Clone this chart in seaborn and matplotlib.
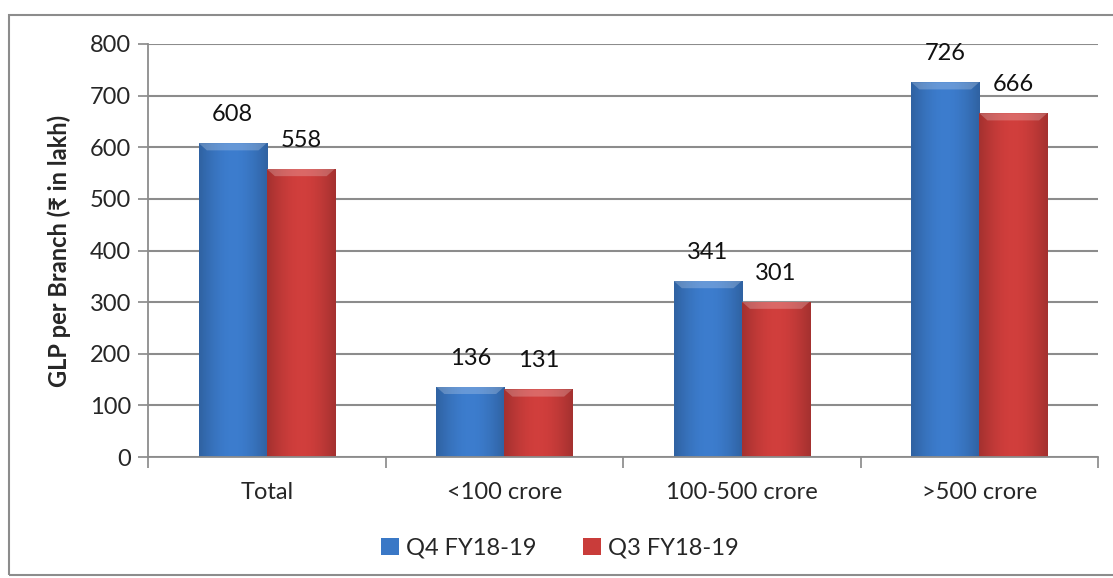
import matplotlib
matplotlib.use("Agg")
import matplotlib.pyplot as plt
import seaborn as sns
import pandas as pd
import numpy as np
from matplotlib.patches import Rectangle, Patch, Polygon

categories = ["Total", "<100 crore", "100-500 crore", ">500 crore"]
q4_values = [608, 136, 341, 726]
q3_values = [558, 131, 301, 666]
series_names = ["Q4 FY18-19", "Q3 FY18-19"]
y_ticks = [0, 100, 200, 300, 400, 500, 600, 700, 800]

df = pd.DataFrame({
    "category": categories * 2,
    "value": q4_values + q3_values,
    "series": [series_names[0]] * 4 + [series_names[1]] * 4,
})

sns.set_style("white")
plt.rcParams['font.family'] = ['Lato', 'DejaVu Sans']

FS = 17

fig = plt.figure(figsize=(11.13, 5.78), dpi=100)
ax = fig.add_axes([148/1113, 1 - 457/578, 950/1113, 413/578])

colors = ["#3A78C6", "#C93C3A"]
sns.barplot(data=df, x="category", y="value", hue="series", order=categories,
            hue_order=series_names, palette=colors, width=0.573, ax=ax,
            edgecolor="none", linewidth=0, legend=False, saturation=1)

# subtle shading / bevel
for p in ax.patches:
    x0, w, h = p.get_x(), p.get_width(), p.get_height()
    if h <= 0:
        continue
    fc = p.get_facecolor()
    grad = np.linspace(0, 1, 50)
    img = np.ones((1, 50, 4))
    shade = 0.82 + 0.22 * np.sin(grad * np.pi)
    for k in range(3):
        img[0, :, k] = np.clip(fc[k] * shade, 0, 1)
    im = ax.imshow(img, extent=[x0, x0 + w, 0, h], aspect="auto", zorder=p.get_zorder() + 0.1)
    im.set_clip_path(p)
    bev = 14
    ax.add_patch(Polygon([(x0, h), (x0 + w, h), (x0 + w - w * 0.12, h - bev), (x0 + w * 0.12, h - bev)],
                         closed=True, facecolor="white", alpha=0.22, edgecolor="none",
                         zorder=p.get_zorder() + 0.2))

for container in ax.containers:
    ax.bar_label(container, padding=13, fontsize=FS, color="#111111")

ax.set_xlim(-0.5, 3.5)
ax.set_ylim(0, 800)
ax.set_yticks(y_ticks)
ax.tick_params(axis="y", labelsize=FS, length=7, width=1.2, color="#888888", pad=5, left=True)
ax.tick_params(axis="x", labelsize=FS, length=0, pad=18)
ax.set_xticks([-0.5, 0.5, 1.5, 2.5, 3.5], minor=True)
ax.tick_params(axis="x", which="minor", length=8, width=1.2, color="#888888", bottom=True)
ax.yaxis.grid(True, color="#8C8C8C", linewidth=1.5)
ax.set_axisbelow(True)
for s in ["top", "right"]:
    ax.spines[s].set_visible(False)
for s in ["left", "bottom"]:
    ax.spines[s].set_color("#8C8C8C")
    ax.spines[s].set_linewidth(1.3)
ax.set_xlabel("")
ax.set_ylabel("GLP per Branch (₹ in lakh)", fontsize=FS, fontweight="bold",
              family=["Lato", "DejaVu Sans"], labelpad=14)

# legend
handles = [Patch(facecolor=c, edgecolor="none") for c in colors]
fig.legend(handles, series_names, loc="center", bbox_to_anchor=(560/1113, 1 - 548/578),
           ncol=2, frameon=False, fontsize=FS, handlelength=0.75, handleheight=0.75,
           handletextpad=0.3, columnspacing=2.0)

# outer border
fig.add_artist(Rectangle((9/1113, 0.005), 1.2, 1 - 15/578 - 0.005, transform=fig.transFigure,
                         fill=False, edgecolor="#8C8C8C", linewidth=1.5))

fig.savefig("out.png", dpi=100)
